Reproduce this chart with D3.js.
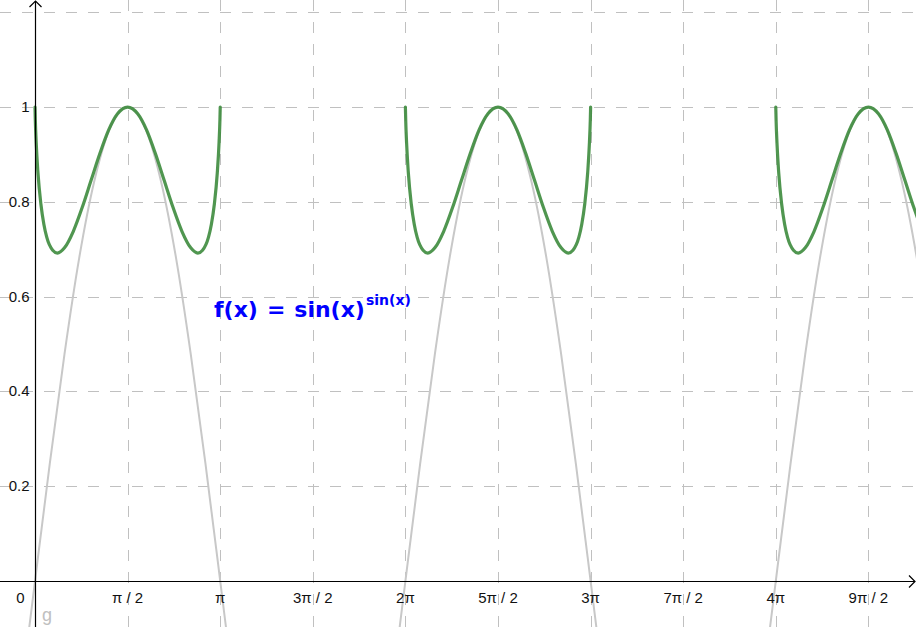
<!DOCTYPE html>
<html>
<head>
<meta charset="utf-8">
<script src="https://cdn.jsdelivr.net/npm/d3@7"></script>
<style>
  body { margin: 0; background: #fff; }
  svg { display: block; }
</style>
</head>
<body>
<div id="chart"></div>
<script>
// one hump of f(x) = sin(x)^sin(x), x in [0, pi]
var humpX = [0, 0.005, 0.02, 0.05, 0.1, 0.15, 0.2, 0.3, 0.38, 0.5, 0.65, 0.8, 0.95, 1.1, 1.25, 1.4, 1.571,
             1.742, 1.892, 2.042, 2.192, 2.342, 2.492, 2.642, 2.762, 2.842, 2.942, 2.992, 3.042, 3.092, 3.122, 3.137, 3.142];
var humpY = [1, 0.974, 0.925, 0.861, 0.795, 0.753, 0.725, 0.698, 0.692, 0.703, 0.738, 0.788, 0.845, 0.902, 0.952, 0.986, 1,
             0.986, 0.952, 0.902, 0.845, 0.788, 0.738, 0.703, 0.692, 0.698, 0.725, 0.753, 0.795, 0.861, 0.925, 0.974, 1];
// gray curve g (sine), one arch incl. a bit below the axis
var archX = [-0.1, 0, 0.25, 0.5, 0.75, 1.0, 1.25, 1.571, 1.892, 2.142, 2.392, 2.642, 2.892, 3.142, 3.242];
var archY = [-0.1, 0, 0.247, 0.479, 0.682, 0.841, 0.949, 1, 0.949, 0.841, 0.682, 0.479, 0.247, 0, -0.1];
// start of each visible hump
var humpStarts = [0, 2 * Math.PI, 4 * Math.PI];

var xTicks = [0, 1, 2, 3, 4, 5, 6, 7, 8, 9]; // multiples of pi/2
var xTickLabels = ["0", "\u03c0 / 2", "\u03c0", "3\u03c0 / 2", "2\u03c0", "5\u03c0 / 2", "3\u03c0", "7\u03c0 / 2", "4\u03c0", "9\u03c0 / 2"];
var yTicks = [0.2, 0.4, 0.6, 0.8, 1];
var yGrid = [0.2, 0.4, 0.6, 0.8, 1, 1.2];

var width = 916, height = 627;
var x = d3.scaleLinear().domain([-0.594, 14.945]).range([0, width]);
var y = d3.scaleLinear().domain([-0.097, 1.226]).range([height, 0]);

var svg = d3.select("#chart").append("svg")
  .attr("width", width)
  .attr("height", height)
  .style("font-family", "'Liberation Sans', Arial, sans-serif");

svg.append("defs").append("clipPath").attr("id", "clip")
  .append("rect").attr("x", 0).attr("y", 0).attr("width", width).attr("height", height);

// grid
var grid = svg.append("g").attr("stroke", "#c0c0c0").attr("stroke-width", 1).attr("stroke-dasharray", "11,11");
grid.selectAll(".vg").data(xTicks.slice(1)).enter().append("line")
  .attr("x1", function(d) { return Math.round(x(d * Math.PI / 2)) + 0.5; })
  .attr("x2", function(d) { return Math.round(x(d * Math.PI / 2)) + 0.5; })
  .attr("y1", 0).attr("y2", height);
grid.selectAll(".hg").data(yGrid).enter().append("line")
  .attr("y1", function(d) { return Math.round(y(d)) + 0.5; })
  .attr("y2", function(d) { return Math.round(y(d)) + 0.5; })
  .attr("x1", 0).attr("x2", width);

// curves
var plot = svg.append("g").attr("clip-path", "url(#clip)");
var line = d3.line()
  .x(function(d) { return x(d[0]); })
  .y(function(d) { return y(d[1]); })
  .curve(d3.curveMonotoneX);

humpStarts.forEach(function(s) {
  var arch = archX.map(function(v, i) { return [v + s, archY[i]]; });
  plot.append("path").attr("d", line(arch))
    .attr("fill", "none").attr("stroke", "#c8c8c8").attr("stroke-width", 2);
});
humpStarts.forEach(function(s) {
  var hump = humpX.map(function(v, i) { return [v + s, humpY[i]]; });
  plot.append("path").attr("d", line(hump))
    .attr("fill", "none").attr("stroke", "#3d8b3d").attr("stroke-opacity", 0.9)
    .attr("stroke-width", 3.2).attr("stroke-linecap", "round");
});

// axes
var x0 = Math.round(x(0)) + 0.5, y0 = Math.round(y(0)) + 0.5;
var axes = svg.append("g").attr("stroke", "#000").attr("stroke-width", 1.2).attr("fill", "none");
axes.append("line").attr("x1", 0).attr("x2", width - 1).attr("y1", y0).attr("y2", y0);
axes.append("path").attr("d", "M" + (width - 7) + "," + (y0 - 6) + "L" + (width - 1) + "," + y0 + "L" + (width - 7) + "," + (y0 + 6));
axes.append("line").attr("x1", x0).attr("x2", x0).attr("y1", 1).attr("y2", height);
axes.append("path").attr("d", "M" + (x0 - 6) + ",7L" + x0 + ",1L" + (x0 + 6) + ",7");

// tick labels
svg.selectAll(".xl").data(xTicks).enter().append("text")
  .attr("x", function(d) { return d === 0 ? x0 - 15 : x(d * Math.PI / 2); })
  .attr("y", 603)
  .attr("text-anchor", "middle")
  .attr("font-size", 15)
  .attr("fill", "#111")
  .text(function(d, i) { return xTickLabels[i]; });
svg.selectAll(".yl").data(yTicks).enter().append("text")
  .attr("x", x0 - 6)
  .attr("y", function(d) { return y(d) + 5; })
  .attr("text-anchor", "end")
  .attr("font-size", 15)
  .attr("fill", "#111")
  .text(function(d) { return d3.format("")(d); });

// curve label g
svg.append("text").attr("x", 42).attr("y", 621)
  .attr("font-size", 18).attr("fill", "#c0c0c0").text("g");

// formula label
var f = svg.append("text").attr("x", 214).attr("y", 317)
  .attr("font-size", 22).attr("font-weight", "bold").attr("fill", "#0000ff")
  .style("font-family", "'DejaVu Sans', sans-serif");
f.append("tspan").text("f(x)");
f.append("tspan").attr("dx", 9).text("=");
f.append("tspan").attr("dx", 9).text("sin(x)");
f.append("tspan").attr("font-size", 14).attr("dy", -12).attr("dx", 1).text("sin(x)");
</script>
</body>
</html>
